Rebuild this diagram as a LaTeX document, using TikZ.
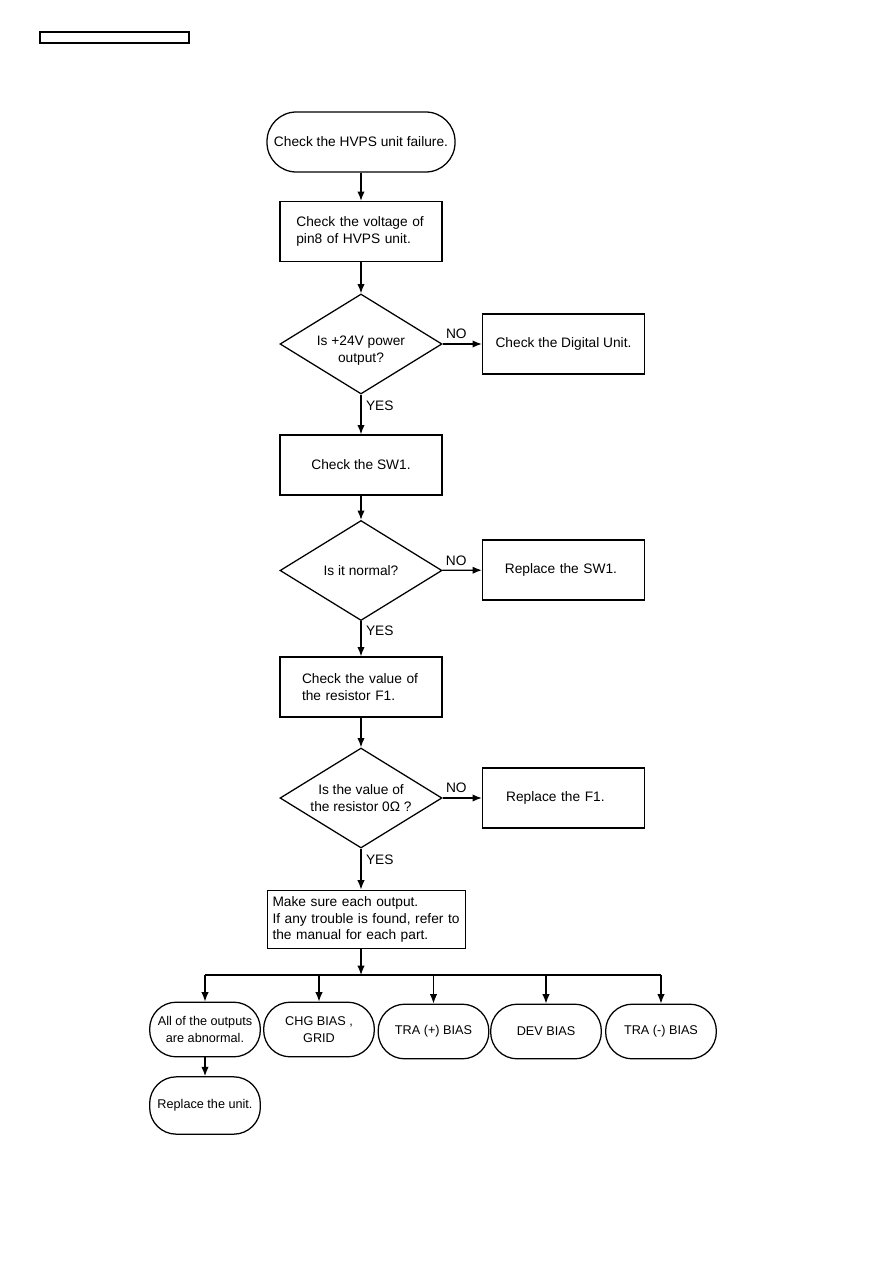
\documentclass[tikz,border=0pt]{standalone}
\usepackage{fontspec}
\setmainfont{Liberation Sans}
\usetikzlibrary{shapes.geometric,arrows.meta}
\tikzset{
  term/.style={rectangle, draw, rounded corners=20pt, align=center, inner sep=0pt, minimum width=83pt, minimum height=41pt, font=\fontsize{9.5pt}{12.5pt}\selectfont},
  box/.style={rectangle, draw, minimum width=121.5pt, minimum height=45pt, align=left, inner sep=0pt},
  test/.style={diamond, draw, aspect=1.62, minimum width=121.5pt, minimum height=75pt, align=center, inner sep=0pt},
  flow/.style={-{Latex[length=7pt,width=5.5pt]}}
}
\begin{document}
\begin{tikzpicture}[x=0.75pt,y=-0.75pt,line width=0.95pt,font=\fontsize{10.3pt}{13pt}\selectfont]
\useasboundingbox (0,0) rectangle (893,1263);
\node[draw, line width=0.9pt, minimum width=111.75pt, minimum height=8.25pt, inner sep=0pt] (hdr) at (114.5,37.5) {};

\node[term, rounded corners=22pt, minimum width=141pt, minimum height=45pt, font=\fontsize{10.3pt}{13pt}\selectfont] (start) at (361,142) {Check the HVPS unit failure.};
\node[box, text width=97pt] (volt) at (361,231.5) {Check the voltage of\\pin8 of HVPS unit.};
\node[test, text height=30pt] (q24) at (361,344) {Is +24V power\\output?};
\node[box, align=center] (digital) at (563.5,344) {Check the Digital Unit.};
\node[box, align=center] (sw) at (361,465) {Check the SW1.};
\node[test] (qsw) at (361,570.5) {Is it normal?};
\node[box, text width=88pt] (repsw) at (563.5,570) {Replace the SW1.};
\node[box, text width=88.5pt] (res) at (361,687) {Check the value of\\the resistor F1.};
\node[test] (qres) at (361,798) {Is the value of\\the resistor 0Ω ?};
\node[box, text width=86pt] (repf) at (563.5,798) {Replace the F1.};
\node[box, minimum width=149pt, minimum height=44pt, text width=141pt, font=\fontsize{10.3pt}{12.4pt}\selectfont] (out) at (366.5,919.5) {Make sure each output.\\If any trouble is found, refer to\\the manual for each part.};

\coordinate (bus) at (361,975);
\foreach \i/\x/\y/\t in {1/205/1029.5/{All of the outputs\\are abnormal.}, 2/319/1029.5/{CHG BIAS ,\\GRID}, 3/433.5/1031.5/{TRA (+) BIAS}, 4/546/1031.5/{DEV BIAS}, 5/661/1031.5/{TRA (-) BIAS}}
	\node[term] (o\i) at (\x,\y) {\t};
\node[term, minimum height=43pt] (unit) at (205,1105.5) {Replace the unit.};

\draw[flow] (start) -- (volt);
\draw[flow] (volt) -- (q24);
\draw[flow] (q24) -- node[above, pos=0.35] {NO} (digital);
\draw[flow] (q24) -- node[right, pos=0.27] {YES} (sw);
\draw[flow] (sw) -- (qsw);
\draw[flow] (qsw) -- node[above, pos=0.35] {NO} (repsw);
\draw[flow] (qsw) -- node[right, pos=0.27] {YES} (res);
\draw[flow] (res) -- (qres);
\draw[flow] (qres) -- node[above, pos=0.35] {NO} (repf);
\draw[flow] (qres.south) -- node[right, pos=0.27] {YES} (qres.south |- out.north);
\draw[flow] (out.south -| bus) -- (bus);
\draw (o1 |- bus) -- (o5 |- bus);
\foreach \i in {1,...,5}
	\draw[flow] (o\i |- bus) -- (o\i);
\draw[flow] (o1) -- (unit);
\end{tikzpicture}
\end{document}
